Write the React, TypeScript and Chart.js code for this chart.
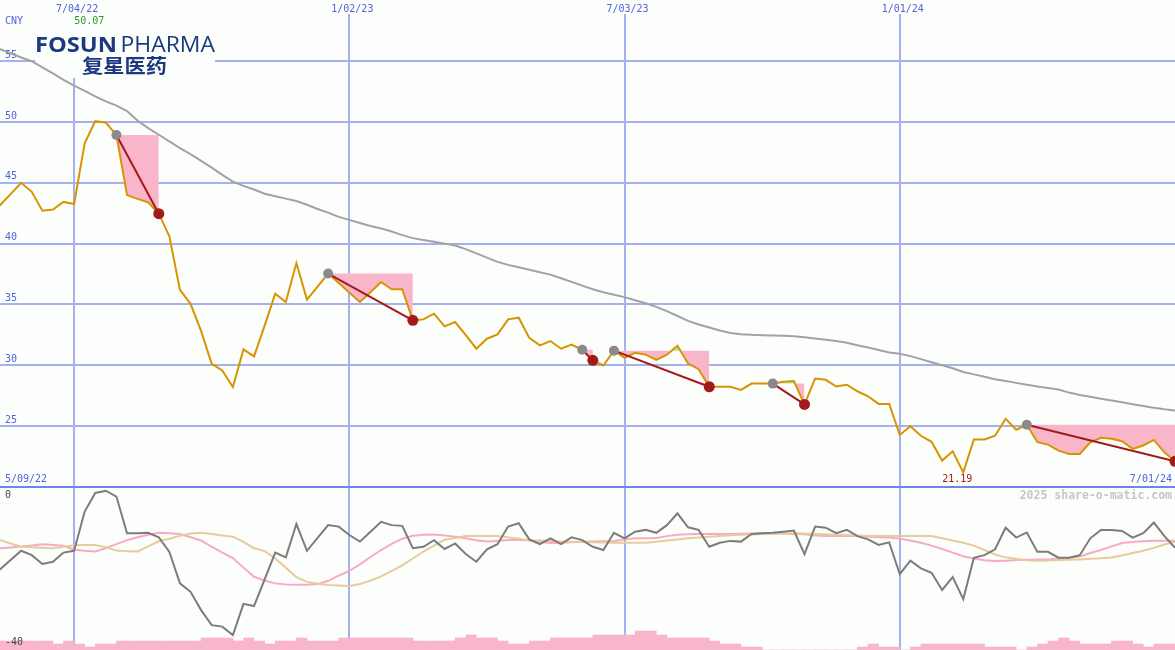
import React, { useEffect, useRef } from "react";
import { Chart, registerables } from "chart.js";

Chart.register(...registerables);

// ---------------- data ----------------
const START_LABEL = "5/09/22";
const END_LABEL = "7/01/24";
const CURRENCY = "CNY";
const WATERMARK = "2025 share-o-matic.com";
const TICK_WEEKS = [8, 34, 60, 86];
const TICK_LABELS = ["7/04/22", "1/02/23", "7/03/23", "1/01/24"];
const PRICE_TICKS = [25, 30, 35, 40, 45, 50, 55];
const OSC_TICKS = [0, -40];

// weekly close, week 0 = 5/09/22
const PRICE = [
  42.6, 43.16, 44.07, 45.0, 44.26, 42.7, 42.8, 43.43, 43.25, 48.25,
  50.07, 49.95, 48.93, 43.99, 43.68, 43.39, 42.46, 40.6, 36.2, 35.05,
  32.8, 30.12, 29.57, 28.2, 31.3, 30.73, 33.26, 35.89, 35.2, 38.4,
  35.4, 36.47, 37.54, 36.77, 35.97, 35.2, 36.0, 36.85, 36.25, 36.25,
  33.69, 33.77, 34.24, 33.2, 33.55, 32.48, 31.36, 32.18, 32.54, 33.77,
  33.91, 32.25, 31.63, 31.99, 31.36, 31.7, 31.27, 30.4, 29.98, 31.2,
  30.6, 31.02, 30.87, 30.44, 30.87, 31.6, 30.15, 29.68, 28.23, 28.23,
  28.23, 27.97, 28.49, 28.49, 28.49, 28.65, 28.7, 26.78, 28.9, 28.8,
  28.25, 28.4, 27.86, 27.45, 26.82, 26.82, 24.27, 24.98, 24.2, 23.7,
  22.16, 22.92, 21.19, 23.89, 23.89, 24.2, 25.6, 24.7, 25.1, 23.67,
  23.47, 22.98, 22.7, 22.7, 23.67, 24.03, 23.95, 23.75, 23.12, 23.4,
  23.86, 22.84, 22.1,
];

// long moving average (grey)
const MOVING_AVG = [
  56.3, 55.99, 55.65, 55.3, 55.0, 54.5, 54.0, 53.46, 53.0, 52.55,
  52.1, 51.7, 51.35, 50.9, 50.1, 49.5, 48.95, 48.4, 47.85, 47.35,
  46.8, 46.25, 45.65, 45.1, 44.75, 44.45, 44.1, 43.9, 43.7, 43.5,
  43.2, 42.85, 42.55, 42.2, 41.95, 41.7, 41.45, 41.25, 41.0, 40.7,
  40.45, 40.3, 40.15, 40.0, 39.85, 39.55, 39.2, 38.85, 38.5, 38.25,
  38.05, 37.85, 37.65, 37.45, 37.15, 36.85, 36.55, 36.25, 36.0, 35.8,
  35.6, 35.35, 35.1, 34.8, 34.45, 34.05, 33.65, 33.35, 33.1, 32.85,
  32.65, 32.55, 32.5, 32.47, 32.45, 32.42, 32.38, 32.3, 32.2, 32.1,
  32.0, 31.85, 31.65, 31.45, 31.25, 31.05, 30.95, 30.75, 30.5, 30.25,
  30.0, 29.75, 29.45, 29.25, 29.05, 28.85, 28.7, 28.55, 28.4, 28.25,
  28.12, 28.0, 27.75, 27.55, 27.4, 27.25, 27.1, 26.95, 26.8, 26.65,
  26.5, 26.38, 26.28,
];

// oscillator (grey) and its two averages (pink, tan)
const OSC = [
  -23.0, -21.5, -18.9, -16.4, -17.6, -20.0, -19.4, -16.9, -16.4, -5.7,
  -0.6, 0.0, -1.6, -11.6, -11.6, -11.5, -12.7, -16.7, -25.3, -27.6,
  -32.6, -36.7, -37.1, -39.4, -30.9, -31.5, -24.2, -16.9, -18.2, -9.1,
  -16.4, -12.9, -9.4, -9.8, -12.1, -13.9, -11.2, -8.5, -9.4, -9.6,
  -15.7, -15.3, -13.5, -15.9, -14.4, -17.3, -19.4, -16.0, -14.6, -9.8,
  -8.9, -13.3, -14.6, -13.0, -14.6, -12.7, -13.5, -15.3, -16.2, -11.5,
  -13.0, -11.2, -10.7, -11.5, -9.4, -6.2, -10.0, -10.7, -15.3, -14.2,
  -13.7, -13.9, -11.8, -11.6, -11.5, -11.2, -10.9, -17.3, -9.8, -10.1,
  -11.6, -10.7, -12.4, -13.3, -14.8, -14.1, -22.8, -19.1, -21.2, -22.4,
  -27.1, -23.6, -29.6, -18.3, -17.6, -16.0, -10.1, -12.8, -11.4, -16.7,
  -16.7, -18.3, -18.3, -17.6, -13.0, -10.7, -10.7, -11.0, -12.8, -11.6,
  -8.7, -12.4, -15.6,
];
const OSC_FAST = [
  -15.8, -15.72, -15.5, -15.25, -14.95, -14.65, -14.8, -15.05, -16.1, -16.4,
  -16.6, -15.7, -14.6, -13.5, -12.7, -12.0, -11.5, -11.6, -11.8, -12.7,
  -13.6, -15.3, -16.9, -18.4, -21.0, -23.5, -24.5, -25.3, -25.6, -25.7,
  -25.65, -25.5, -24.6, -23.2, -21.9, -20.1, -18.1, -16.2, -14.5, -13.1,
  -12.3, -12.0, -11.95, -12.2, -12.6, -13.0, -13.5, -13.9, -13.7, -13.45,
  -13.45, -13.55, -14.0, -14.3, -14.2, -14.1, -13.95, -13.9, -13.8, -13.7,
  -13.35, -13.0, -13.0, -12.9, -12.4, -12.0, -11.9, -11.85, -11.82, -11.82,
  -11.82, -11.75, -11.7, -11.65, -11.65, -11.7, -11.8, -11.9, -12.2, -12.37,
  -12.37, -12.37, -12.4, -12.6, -12.7, -12.8, -13.1, -13.6, -14.2, -15.0,
  -15.9, -16.9, -17.9, -18.5, -19.0, -19.2, -19.1, -18.95, -18.85, -18.8,
  -18.75, -18.5, -18.3, -18.0, -17.0, -16.2, -15.2, -14.3, -14.0, -13.8,
  -13.65, -13.65, -13.65,
];
const OSC_SLOW = [
  -13.0, -13.46, -14.4, -15.3, -15.45, -15.6, -15.7, -15.3, -14.9, -14.82,
  -14.82, -15.4, -16.35, -16.5, -16.6, -15.2, -13.8, -13.1, -12.3, -11.7,
  -11.5, -11.8, -12.2, -12.55, -14.0, -15.7, -16.5, -18.5, -21.0, -23.6,
  -24.9, -25.4, -25.75, -25.9, -26.0, -25.5, -24.5, -23.4, -21.9, -20.4,
  -18.5, -16.6, -15.0, -13.4, -12.9, -12.4, -12.37, -12.37, -12.37, -12.7,
  -13.1, -13.5, -13.6, -13.7, -13.85, -13.95, -14.0, -14.1, -14.15, -14.2,
  -14.2, -14.2, -14.2, -13.95, -13.6, -13.3, -13.0, -12.75, -12.55, -12.35,
  -12.15, -12.0, -11.95, -11.85, -11.75, -11.7, -11.65, -11.7, -11.8, -11.9,
  -12.0, -12.1, -12.25, -12.37, -12.37, -12.37, -12.37, -12.37, -12.37, -12.4,
  -13.0, -13.6, -14.2, -15.0, -16.2, -17.4, -18.2, -18.6, -19.0, -19.15,
  -19.05, -18.95, -18.85, -18.75, -18.6, -18.45, -18.25, -17.7, -17.0, -16.4,
  -15.6, -14.7, -13.9,
];

// relative weekly volume (bar for week k spans week k .. k+1)
const VOLUME = [
  9, 9, 9, 9, 9, 9, 6, 9, 6, 3,
  6, 6, 9, 9, 9, 9, 9, 9, 9, 9,
  12, 12, 12, 9, 12, 9, 6, 9, 9, 12,
  9, 9, 9, 12, 12, 12, 12, 12, 12, 12,
  9, 9, 9, 9, 12, 15, 12, 12, 9, 6,
  6, 9, 9, 12, 12, 12, 12, 15, 15, 15,
  15, 19, 19, 15, 12, 12, 12, 12, 9, 6,
  6, 3, 3, 0, 0, 0, 0, 0, 0, 0,
  0, 0, 3, 6, 3, 3, 0, 3, 6, 6,
  6, 6, 6, 6, 3, 3, 3, 0, 3, 6,
  9, 12, 9, 6, 6, 6, 9, 9, 6, 3,
  6, 6,
];

// down-trend segments (week index of start and end)
const TREND_START = [12, 32, 56, 59, 74, 98];
const TREND_END = [16, 40, 57, 68, 77, 112];
const HIGH_WEEK = 10;
const LOW_WEEK = 92;

// ---------------- styles ----------------
const BG = "#fcfefc";
const GRID = "#a4b0f0";
const SEPARATOR = "#7282ee";
const BLUE_TEXT = "#5262dc";
const PRICE_COLOR = "#d89400";
const MA_COLOR = "#a2a2a2";
const PINK_FILL = "#f9b6cb";
const GREEN_FILL = "#a6f0a0";
const DARK_RED = "#a21a1a";
const GREY_DOT = "#8a8a8a";
const OSC_COLOR = "#7c7c7c";
const FAST_COLOR = "#f8aac4";
const SLOW_COLOR = "#e6cc9c";
const VOL_COLOR = "#f8b6ca";
const GREEN_TEXT = "#2a9a2a";
const NAVY = "#1b3a80";
const MONO = "'DejaVu Sans Mono', monospace";

const X_MIN = 1;
const X_MAX = 112;

function zeroPadding(s: any) {
  s.paddingTop = 0;
  s.paddingBottom = 0;
  s.paddingLeft = 0;
  s.paddingRight = 0;
}

function drawFitted(ctx: any, text: string, x: number, y: number, width: number, font: string) {
  ctx.font = font;
  const w = ctx.measureText(text).width || 1;
  ctx.save();
  ctx.translate(x, y);
  ctx.scale(width / w, 1);
  ctx.fillText(text, 0, 0);
  ctx.restore();
}

const topPlugin = {
  id: "topText",
  beforeDatasetsDraw(chart: any) {
    const { ctx } = chart;
    const xs = chart.scales.x;
    ctx.save();
    ctx.fillStyle = BG;
    const hx = xs.getPixelForValue(HIGH_WEEK) - 6;
    ctx.fillRect(hx - 17, 14, 34, 13);
    ctx.fillRect(35, 26, 180, 52);
    ctx.fillStyle = NAVY;
    ctx.textAlign = "left";
    ctx.textBaseline = "alphabetic";
    drawFitted(ctx, "FOSUN", 35, 51.5, 82, "700 21px 'Open Sans'");
    drawFitted(ctx, "PHARMA", 120.5, 51.5, 94.5, "400 21px 'Open Sans'");
    drawFitted(ctx, "复星医药", 82, 73, 85, "700 19px 'Noto Sans CJK SC'");
    ctx.restore();
  },
  afterDatasetsDraw(chart: any) {
    const { ctx } = chart;
    const xs = chart.scales.x;
    ctx.save();
    ctx.font = `10px ${MONO}`;
    ctx.textBaseline = "middle";
    ctx.fillStyle = BLUE_TEXT;
    ctx.textAlign = "left";
    ctx.fillText(CURRENCY, 5, 21);
    ctx.fillText(START_LABEL, 5, 479);
    ctx.textAlign = "right";
    ctx.fillText(END_LABEL, 1172, 479);
    ctx.textAlign = "center";
    ctx.fillStyle = GREEN_TEXT;
    ctx.fillText(PRICE[HIGH_WEEK].toFixed(2), xs.getPixelForValue(HIGH_WEEK) - 6, 21);
    ctx.fillStyle = DARK_RED;
    ctx.fillText(PRICE[LOW_WEEK].toFixed(2), xs.getPixelForValue(LOW_WEEK) - 6, 479);
    ctx.restore();
  },
};

const bottomPlugin = {
  id: "bottomText",
  beforeDatasetsDraw(chart: any) {
    const { ctx } = chart;
    ctx.save();
    ctx.font = `bold 11.5px ${MONO}`;
    ctx.fillStyle = "#c6c6c6";
    ctx.textAlign = "right";
    ctx.textBaseline = "middle";
    ctx.fillText(WATERMARK, 1172, 10);
    ctx.restore();
  },
};

function xAxis(top: boolean) {
  return {
    type: "linear",
    position: "top",
    min: X_MIN,
    max: X_MAX,
    offset: false,
    afterBuildTicks: (s: any) => {
      s.ticks = TICK_WEEKS.map((v) => ({ value: v }));
    },
    afterFit: (s: any) => {
      s.height = top ? 14 : 1;
      zeroPadding(s);
    },
    ticks: {
      display: top,
      autoSkip: false,
      maxRotation: 0,
      minRotation: 0,
      padding: -1,
      labelOffset: 3,
      color: BLUE_TEXT,
      font: { family: MONO, size: 10 },
      callback: (v: any) => {
        const i = TICK_WEEKS.indexOf(Number(v));
        return i >= 0 ? TICK_LABELS[i] : "";
      },
    },
    grid: { color: GRID, lineWidth: 2, drawTicks: false, offset: false },
    border: top ? { display: false } : { display: true, color: SEPARATOR, width: 2 },
  };
}

function topConfig(): any {
  const PRICE_INDEX = 0;
  const priceData = PRICE.map((y, k) => ({ x: k, y }));
  const maData = MOVING_AVG.map((y, k) => ({ x: k, y }));
  const levels = TREND_START.map((s, i) => ({
    type: "line",
    data: [
      { x: s, y: PRICE[s] },
      { x: TREND_END[i], y: PRICE[s] },
    ],
    borderColor: "rgba(0,0,0,0)",
    borderWidth: 0,
    pointRadius: 0,
    backgroundColor: PINK_FILL,
    fill: { target: PRICE_INDEX, above: PINK_FILL, below: GREEN_FILL },
    order: 10,
  }));
  const trends = TREND_START.map((s, i) => ({
    type: "line",
    data: [
      { x: s, y: PRICE[s] },
      { x: TREND_END[i], y: PRICE[TREND_END[i]] },
    ],
    borderColor: DARK_RED,
    borderWidth: 2,
    pointRadius: [5, 5.5],
    pointBackgroundColor: [GREY_DOT, DARK_RED],
    pointBorderColor: [GREY_DOT, DARK_RED],
    pointBorderWidth: 0,
    fill: false,
    order: 1,
  }));
  return {
    type: "line",
    data: {
      datasets: [
        {
          data: priceData,
          borderColor: PRICE_COLOR,
          borderWidth: 2,
          pointRadius: 0,
          tension: 0,
          fill: false,
          order: 4,
        },
        {
          data: maData,
          borderColor: MA_COLOR,
          borderWidth: 2,
          pointRadius: 0,
          tension: 0,
          fill: false,
          order: 5,
        },
        ...levels,
        ...trends,
      ],
    },
    options: {
      animation: false,
      responsive: false,
      devicePixelRatio: 1,
      events: [],
      layout: { padding: 0, autoPadding: false },
      plugins: { legend: { display: false }, tooltip: { enabled: false } },
      scales: {
        x: xAxis(true),
        y: {
          type: "linear",
          position: "left",
          min: 20.07,
          max: 58.88,
          afterBuildTicks: (s: any) => {
            s.ticks = PRICE_TICKS.map((v) => ({ value: v }));
          },
          afterFit: (s: any) => {
            s.width = 0;
            zeroPadding(s);
          },
          ticks: {
            mirror: true,
            padding: 5,
            labelOffset: -6,
            color: BLUE_TEXT,
            font: { family: MONO, size: 10 },
            callback: (v: any) => String(v),
          },
          grid: { color: GRID, lineWidth: 2, drawTicks: false },
          border: { display: false },
        },
      },
    },
    plugins: [topPlugin],
  };
}

function bottomConfig(): any {
  return {
    type: "line",
    data: {
      datasets: [
        {
          type: "line",
          yAxisID: "osc",
          data: OSC.map((y, k) => ({ x: k, y })),
          borderColor: OSC_COLOR,
          borderWidth: 2,
          pointRadius: 0,
          tension: 0,
          order: 1,
        },
        {
          type: "line",
          yAxisID: "osc",
          data: OSC_SLOW.map((y, k) => ({ x: k, y })),
          borderColor: SLOW_COLOR,
          borderWidth: 2,
          pointRadius: 0,
          tension: 0,
          order: 2,
        },
        {
          type: "line",
          yAxisID: "osc",
          data: OSC_FAST.map((y, k) => ({ x: k, y })),
          borderColor: FAST_COLOR,
          borderWidth: 2,
          pointRadius: 0,
          tension: 0,
          order: 3,
        },
        {
          type: "bar",
          yAxisID: "vol",
          data: VOLUME.map((y, k) => ({ x: k + 0.5, y })),
          backgroundColor: VOL_COLOR,
          borderWidth: 0,
          barPercentage: 1,
          categoryPercentage: 1,
          order: 10,
        },
      ],
    },
    options: {
      animation: false,
      responsive: false,
      devicePixelRatio: 1,
      events: [],
      layout: { padding: 0, autoPadding: false },
      plugins: { legend: { display: false }, tooltip: { enabled: false } },
      scales: {
        x: xAxis(false),
        osc: {
          type: "linear",
          position: "left",
          min: -43.49,
          max: 1.01,
          z: 1,
          afterBuildTicks: (s: any) => {
            s.ticks = OSC_TICKS.map((v) => ({ value: v }));
          },
          afterFit: (s: any) => {
            s.width = 0;
            zeroPadding(s);
          },
          ticks: {
            mirror: true,
            padding: 5,
            labelOffset: 5,
            z: 1,
            color: "#444444",
            font: { family: MONO, size: 10 },
            callback: (v: any) => String(v),
          },
          grid: { display: false, drawTicks: false },
          border: { display: false },
        },
        vol: {
          type: "linear",
          position: "right",
          min: 0,
          max: 163,
          display: false,
        },
      },
    },
    plugins: [bottomPlugin],
  };
}

export default function App() {
  const topRef = useRef<HTMLCanvasElement>(null);
  const botRef = useRef<HTMLCanvasElement>(null);
  useEffect(() => {
    const c1 = new Chart(topRef.current as HTMLCanvasElement, topConfig());
    const c2 = new Chart(botRef.current as HTMLCanvasElement, bottomConfig());
    return () => {
      c1.destroy();
      c2.destroy();
    };
  }, []);
  return (
    <div
      style={{
        position: "absolute",
        left: 0,
        top: 0,
        width: 1175,
        height: 650,
        background: BG,
        overflow: "hidden",
      }}
    >
      <canvas
        ref={topRef}
        width={1175}
        height={486}
        style={{ position: "absolute", left: 0, top: 0, width: 1175, height: 486 }}
      />
      <canvas
        ref={botRef}
        width={1175}
        height={164}
        style={{ position: "absolute", left: 0, top: 486, width: 1175, height: 164 }}
      />
    </div>
  );
}
